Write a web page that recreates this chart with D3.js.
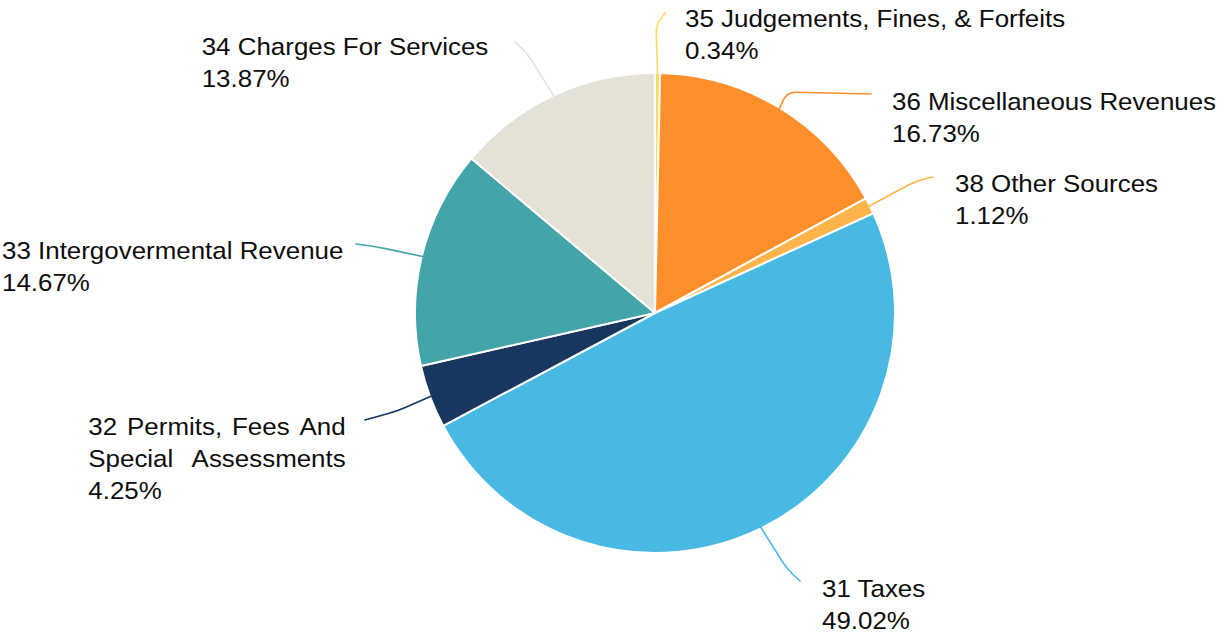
<!DOCTYPE html>
<html>
<head>
<meta charset="utf-8">
<script src="https://cdn.jsdelivr.net/npm/d3@7"></script>
<style>
  html, body { margin: 0; padding: 0; background: #fff; overflow: hidden; }
  svg text { font-family: "Liberation Sans", Arial, sans-serif; font-size: 24px; fill: #0d0d0d; }
</style>
</head>
<body>
<svg id="chart" width="1226" height="634"></svg>
<script>
// Revenue sources, in drawing order (clockwise from 12 o'clock)
const categories = [
  "35 Judgements, Fines, & Forfeits",
  "36 Miscellaneous Revenues",
  "38 Other Sources",
  "31 Taxes",
  "32 Permits, Fees And Special Assessments",
  "33 Intergovermental Revenue",
  "34 Charges For Services"
];
const shares = [0.34, 16.73, 1.12, 49.02, 4.25, 14.67, 13.87];

// How each category name wraps in its label
const nameLines = [
  ["35 Judgements, Fines, & Forfeits"],
  ["36 Miscellaneous Revenues"],
  ["38 Other Sources"],
  ["31 Taxes"],
  ["32 Permits, Fees And", "Special  Assessments"],
  ["33 Intergovermental Revenue"],
  ["34 Charges For Services"]
];

// Slice colours
const colors = ["#FFDA5E", "#FF8F2B", "#FFB54A", "#47B9E3", "#17375E", "#43A5A9", "#E4E2D6"];

// Label placement: text origin, leader elbow and leader end, justified width (if any)
const labelLayout = [
  { x: 685,   y: 27,  elbow: [656, 25],  end: [665, 13] },
  { x: 892,   y: 110, elbow: [787, 92],  end: [871, 94] },
  { x: 955,   y: 192, elbow: [916, 181], end: [933, 177] },
  { x: 822,   y: 597, elbow: [787, 569], end: [800, 581] },
  { x: 88.3,  y: 435, elbow: [397, 411], end: [365, 420], justify: 257.4 },
  { x: 2,     y: 259, elbow: [378, 247], end: [356, 244] },
  { x: 201.7, y: 55,  elbow: [527, 53],  end: [515, 42] }
];

const cx = 655, cy = 313, radius = 240;
const lineHeight = 32;
const stretch = 1.08;

const svg = d3.select("#chart");
const g = svg.append("g").attr("transform", `translate(${cx},${cy})`);

const pie = d3.pie().sort(null).value(d => d)
  .startAngle(0).endAngle(2 * Math.PI);
const arcs = pie(shares);

const arc = d3.arc().innerRadius(0).outerRadius(radius);
const rimArc = d3.arc().innerRadius(radius - 1).outerRadius(radius - 1);

g.selectAll("path.slice")
  .data(arcs)
  .join("path")
  .attr("class", "slice")
  .attr("d", arc)
  .attr("fill", (d, i) => colors[i])
  .attr("stroke", "#fff")
  .attr("stroke-width", 2)
  .attr("stroke-linejoin", "round");

// Leader line: straight segments with a rounded elbow
function leaderPath(p0, p1, p2, r) {
  const d1 = Math.hypot(p1[0] - p0[0], p1[1] - p0[1]);
  const d2 = Math.hypot(p2[0] - p1[0], p2[1] - p1[1]);
  const r1 = Math.min(r, d1 / 2), r2 = Math.min(r, d2 / 2);
  const a = [p1[0] - (p1[0] - p0[0]) / d1 * r1, p1[1] - (p1[1] - p0[1]) / d1 * r1];
  const b = [p1[0] + (p2[0] - p1[0]) / d2 * r2, p1[1] + (p2[1] - p1[1]) / d2 * r2];
  const p = d3.path();
  p.moveTo(p0[0], p0[1]);
  p.lineTo(a[0], a[1]);
  p.quadraticCurveTo(p1[0], p1[1], b[0], b[1]);
  p.lineTo(p2[0], p2[1]);
  return p.toString();
}

const leaders = svg.append("g");
arcs.forEach((d, i) => {
  const c = rimArc.centroid(d);
  const start = [cx + c[0], cy + c[1]];
  const L = labelLayout[i];
  leaders.append("path")
    .attr("d", leaderPath(start, L.elbow, L.end, 9))
    .attr("fill", "none")
    .attr("stroke", colors[i])
    .attr("stroke-width", 1.6)
    .attr("stroke-linecap", "round");
});

const fmt = d3.format(".2f");
const labels = svg.append("g");
arcs.forEach((d, i) => {
  const L = labelLayout[i];
  const lines = nameLines[i].concat([fmt(d.data) + "%"]);
  const grp = labels.append("g")
    .attr("transform", `translate(${L.x},${L.y}) scale(${stretch},1)`);
  lines.forEach((line, k) => {
    const y = k * lineHeight;
    const isName = k < nameLines[i].length;
    if (L.justify && isName) {
      // spread words across the full line width
      const words = line.split(/\s+/);
      const nodes = words.map(w => grp.append("text").attr("y", y).text(w));
      const widths = nodes.map(n => n.node().getComputedTextLength());
      const total = L.justify / stretch;
      const gap = (total - d3.sum(widths)) / (words.length - 1);
      let x = 0;
      nodes.forEach((n, j) => { n.attr("x", x); x += widths[j] + gap; });
    } else {
      grp.append("text").attr("x", 0).attr("y", y).text(line);
    }
  });
});
</script>
</body>
</html>
